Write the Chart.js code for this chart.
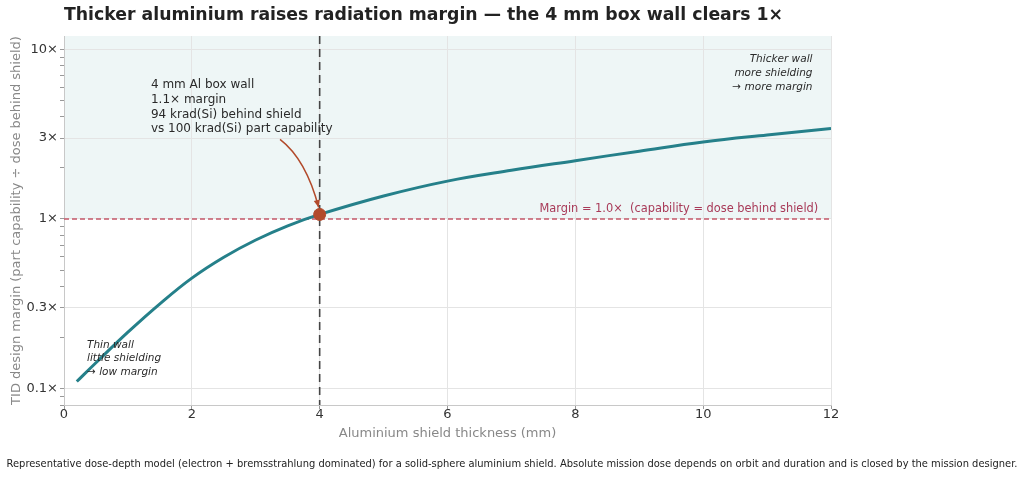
<!DOCTYPE html>
<html>
<head>
<meta charset="utf-8">
<script src="https://cdn.jsdelivr.net/npm/chart.js@4.4.1/dist/chart.umd.min.js"></script>
<style>
    html, body { margin: 0; padding: 0; background: #fff; }
    #wrap { width: 1024px; height: 477px; }
</style>
</head>
<body>
<div id="wrap"><canvas id="chart"></canvas></div>
<script>
const thickness = [0.2, 0.5, 1, 1.5, 2, 2.5, 3, 3.5, 4, 5, 6, 7, 8, 9, 10, 11, 12];
const margin = [0.110, 0.142, 0.215, 0.316, 0.448, 0.595, 0.752, 0.911, 1.064, 1.367, 1.673, 1.937, 2.208, 2.512, 2.849, 3.133, 3.417];
const boxWall = [4];
const boxMargin = [1.064];
const majorTicks = [0.1, 0.3, 1, 3, 10];
const minorTicks = [0.08, 0.09, 0.2, 0.4, 0.5, 0.6, 0.7, 0.8, 0.9, 2, 4, 5, 6, 7, 8, 9];
const xTicks = [0, 2, 4, 6, 8, 10, 12];

const FONT = "'DejaVu Sans', sans-serif";
const TEAL = "#25808a";
const RUST = "#b24a2b";

const overlay = {
    id: "overlay",
    beforeDraw(chart) {
        const { ctx, chartArea, scales } = chart;
        const y1 = scales.y.getPixelForValue(1);
        ctx.save();
        ctx.fillStyle = "#eef6f6";
        ctx.fillRect(chartArea.left, chartArea.top, chartArea.right - chartArea.left, y1 - chartArea.top);
        ctx.restore();
    },
    beforeDatasetsDraw(chart) {
        const { ctx, chartArea, scales } = chart;
        const x = scales.x, y = scales.y;
        ctx.save();
        // margin = 1 reference line
        const y1 = y.getPixelForValue(1);
        ctx.strokeStyle = "#c4586a";
        ctx.lineWidth = 1.3;
        ctx.setLineDash([5, 3]);
        ctx.beginPath();
        ctx.moveTo(chartArea.left, y1);
        ctx.lineTo(chartArea.right, y1);
        ctx.stroke();
        // 4 mm wall line
        const x4 = x.getPixelForValue(boxWall[0]);
        ctx.strokeStyle = "#454545";
        ctx.lineWidth = 1.6;
        ctx.setLineDash([8, 5]);
        ctx.beginPath();
        ctx.moveTo(x4, chartArea.top);
        ctx.lineTo(x4, chartArea.bottom);
        ctx.stroke();
        ctx.restore();
    },
    afterDraw(chart) {
        const { ctx, chartArea, scales } = chart;
        const x = scales.x, y = scales.y;
        ctx.save();
        // title
        ctx.fillStyle = "#222";
        ctx.font = "bold 17.3px " + FONT;
        ctx.textBaseline = "alphabetic";
        ctx.textAlign = "left";
        ctx.fillText("Thicker aluminium raises radiation margin \u2014 the 4 mm box wall clears 1\u00d7", chartArea.left, 20);

        // footer
        ctx.fillStyle = "#222";
        ctx.font = "9.93px " + FONT;
        ctx.textAlign = "center";
        ctx.fillText("Representative dose-depth model (electron + bremsstrahlung dominated) for a solid-sphere aluminium shield. Absolute mission dose depends on orbit and duration and is closed by the mission designer.", 512, 467);

        // margin label
        ctx.fillStyle = "#a83a58";
        ctx.font = "11.4px " + FONT;
        ctx.textAlign = "right";
        ctx.fillText("Margin = 1.0\u00d7  (capability = dose behind shield)", x.getPixelForValue(11.8), y.getPixelForValue(1) - 7);

        // point callout
        ctx.fillStyle = "#2a2a2a";
        ctx.font = "12px " + FONT;
        ctx.textAlign = "left";
        const lines = ["4 mm Al box wall", "1.1\u00d7 margin", "94 krad(Si) behind shield", "vs 100 krad(Si) part capability"];
        const tx = x.getPixelForValue(1.36);
        const ty = y.getPixelForValue(5.9);
        lines.forEach((t, i) => ctx.fillText(t, tx, ty + i * 14.7));

        // curved arrow to the box wall point
        const sx = x.getPixelForValue(3.38), sy = y.getPixelForValue(2.95);
        const ex = x.getPixelForValue(boxWall[0]) - 1, ey = y.getPixelForValue(boxMargin[0]) - 7;
        const cx = sx + 26, cy = sy + 20;
        ctx.strokeStyle = RUST;
        ctx.fillStyle = RUST;
        ctx.lineWidth = 1.5;
        ctx.beginPath();
        ctx.moveTo(sx, sy);
        ctx.quadraticCurveTo(cx, cy, ex, ey);
        ctx.stroke();
        const ang = Math.atan2(ey - cy, ex - cx);
        ctx.beginPath();
        ctx.moveTo(ex, ey);
        ctx.lineTo(ex - 8 * Math.cos(ang - 0.4), ey - 8 * Math.sin(ang - 0.4));
        ctx.lineTo(ex - 8 * Math.cos(ang + 0.4), ey - 8 * Math.sin(ang + 0.4));
        ctx.closePath();
        ctx.fill();

        // corner notes
        ctx.fillStyle = "#2a2a2a";
        ctx.font = "italic 10.5px " + FONT;
        ctx.textAlign = "right";
        ["Thicker wall", "more shielding", "\u2192 more margin"].forEach((t, i) =>
            ctx.fillText(t, x.getPixelForValue(11.71), y.getPixelForValue(8.38) + i * 14));
        ctx.textAlign = "left";
        ["Thin wall", "little shielding", "\u2192 low margin"].forEach((t, i) =>
            ctx.fillText(t, x.getPixelForValue(0.36), y.getPixelForValue(0.174) + i * 13.5));
        ctx.restore();
    }
};

new Chart(document.getElementById("chart"), {
    type: "scatter",
    data: {
        datasets: [
            {
                data: boxWall.map((v, i) => ({ x: v, y: boxMargin[i] })),
                backgroundColor: RUST,
                borderColor: RUST,
                pointRadius: 6,
                order: 0,
            },
            {
                data: thickness.map((v, i) => ({ x: v, y: margin[i] })),
                showLine: true,
                borderColor: TEAL,
                borderWidth: 3,
                pointRadius: 0,
                tension: 0.4,
                order: 1,
            },
        ],
    },
    plugins: [overlay],
    options: {
        responsive: true,
        maintainAspectRatio: false,
        animation: false,
        layout: { padding: { top: 36, right: 193, left: 0, bottom: 0 } },
        plugins: {
            legend: { display: false },
            tooltip: { enabled: false },
        },
        scales: {
            x: {
                type: "linear",
                min: 0,
                max: 12,
                afterFit: scale => { scale.height = 72; },
                afterBuildTicks: scale => { scale.ticks = xTicks.map(v => ({ value: v })); },
                grid: { color: "#e4e4e4", tickColor: "#999", tickLength: 4 },
                border: { color: "#c8c8c8" },
                ticks: { color: "#333", font: { family: FONT, size: 13 }, padding: -2, maxRotation: 0 },
                title: {
                    display: true,
                    text: "Aluminium shield thickness (mm)",
                    color: "#888",
                    font: { family: FONT, size: 13 },
                    padding: { top: 0, bottom: 36 },
                },
            },
            y: {
                type: "logarithmic",
                min: 0.08,
                max: 12,
                afterFit: scale => { scale.width = 64; },
                afterBuildTicks: scale => {
                    scale.ticks = majorTicks.concat(minorTicks).sort((a, b) => a - b).map(v => ({ value: v }));
                },
                grid: {
                    color: c => majorTicks.includes(c.tick.value) ? "#e4e4e4" : "rgba(0,0,0,0)",
                    tickColor: "#999",
                    tickLength: 4,
                },
                border: { color: "#c8c8c8" },
                ticks: {
                    color: "#333",
                    font: { family: FONT, size: 13 },
                    padding: 2,
                    autoSkip: false,
                    callback: v => majorTicks.includes(v) ? v + "\u00d7" : "",
                },
                title: {
                    display: true,
                    text: "TID design margin (part capability \u00f7 dose behind shield)",
                    color: "#888",
                    font: { family: FONT, size: 13 },
                    padding: { top: 9, bottom: 0 },
                },
            },
        },
    },
});
</script>
</body>
</html>
